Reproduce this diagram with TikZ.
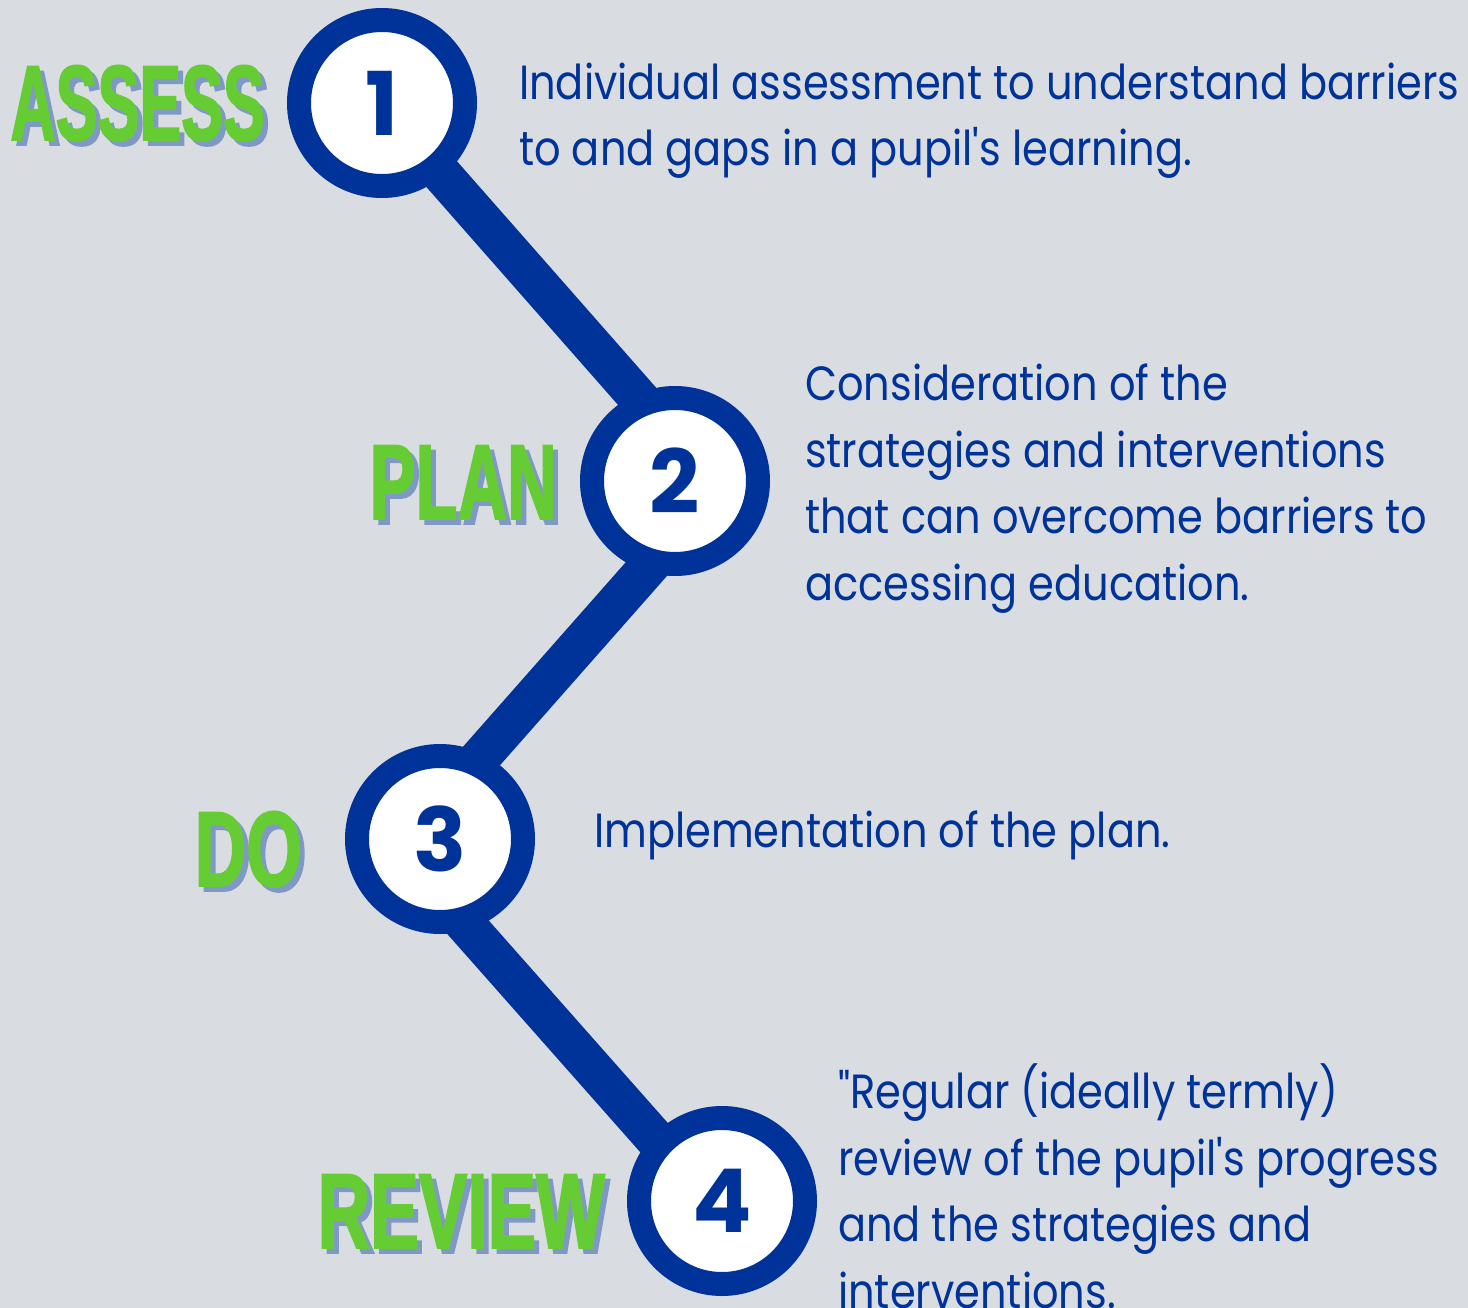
\documentclass[tikz,border=0pt]{standalone}
\usepackage{fontspec}
\newfontfamily\bodyfont{Poppins}[FakeStretch=0.865]
\newfontfamily\numfont{Poppins}
\newfontfamily\headfont[FakeStretch=0.63,FakeBold=1.5]{Liberation Sans Bold}
\usetikzlibrary{calc}
\definecolor{bgcol}{RGB}{217,220,225}
\definecolor{stepblue}{RGB}{0,51,153}
\definecolor{stepgreen}{RGB}{102,204,51}
\definecolor{stepshade}{RGB}{128,153,196}
\pgfdeclarelayer{background}
\pgfsetlayers{background,main}

\begin{document}
\begin{tikzpicture}[x=1pt,y=-1pt,
    ring/.style={circle,draw=stepblue,line width=24pt,fill=white,
      minimum size=166pt,inner sep=0pt,text=stepblue,
      font=\fontsize{88}{88}\numfont\bfseries},
    link/.style={stepblue,line width=40pt},
    headtxt/.style={anchor=base east,inner sep=0pt,text=stepgreen,
      font=\fontsize{107}{107}\headfont},
    shadetxt/.style={headtxt,text=stepshade},
    bodytxt/.style={anchor=base west,inner sep=0pt,align=left,text=stepblue,
      font=\fontsize{48}{66.5}\bodyfont}]
  \useasboundingbox (0,0) rectangle (1468,1308);

  % the four steps
  \node[ring] (s1) at (382,103) {1};
  \node[ring] (s2) at (675,481) {2};
  \node[ring] (s3) at (440,839) {3};
  \node[ring] (s4) at (722,1201) {4};

  % handle ends, hidden under the rings
  \coordinate (h1a) at (402,129);  \coordinate (h1b) at (672,436);
  \coordinate (h2a) at (687,523);  \coordinate (h2b) at (448,794);
  \coordinate (h3a) at (428,882);  \coordinate (h3b) at (688,1176);

  \begin{pgfonlayer}{background}
    \fill[bgcol] (0,0) rectangle (1468,1308);
    \draw[link] (h1a) -- (h1b);
    \draw[link] (h2a) -- (h2b);
    \draw[link] (h3a) -- (h3b);
  \end{pgfonlayer}

  % headings with their shadow
  \foreach \word/\x/\y/\sx/\n in {ASSESS/265/140/0.93/assess,PLAN/557/519/1.02/plan,
                                  DO/302/886/1.06/do,REVIEW/605/1248/1.08/review} {
    \node[shadetxt] at (\x+5,\y+5) {\scalebox{\sx}[1]{\word}};
    \node[headtxt] (\n) at (\x,\y) {\scalebox{\sx}[1]{\word}};
  }

  % descriptions (anchored at the baseline of the last line)
  \node[bodytxt] (t1) at (519,166)
    {Individual assessment to understand barriers\\
     to and gaps in a pupil's learning.};
  \node[bodytxt] (t2) at (805,600)
    {Consideration of the\\
     strategies and interventions\\
     that can overcome barriers to\\
     accessing education.};
  \node[bodytxt] (t3) at (594,847) {Implementation of the plan.};
  \node[bodytxt] (t4) at (838,1308)
    {"Regular (ideally termly)\\
     review of the pupil's progress\\
     and the strategies and\\
     interventions.};
\end{tikzpicture}
\end{document}
